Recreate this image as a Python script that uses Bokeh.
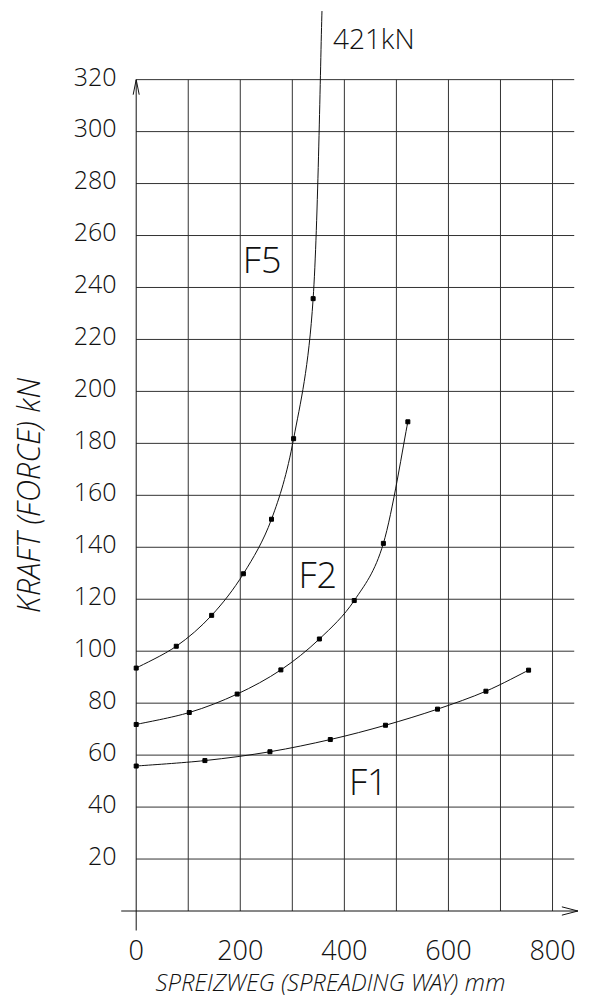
from bokeh.plotting import figure
from bokeh.models import Range1d
from bokeh.core.properties import value
from bokeh.embed import file_html
from bokeh.resources import INLINE
import math

# ---- data ----
f5_x = [0, 77, 145, 206, 260, 302.5, 340]
f5_y = [93.5, 101.9, 113.8, 129.8, 150.8, 181.8, 235.7]
f5_top_x = 357      # visible end of F5 at the top edge (curve runs on towards 421 kN)
f5_top_y = 346.4

f2_x = [0, 102, 194, 278, 352, 419, 475, 522]
f2_y = [71.8, 76.4, 83.5, 92.8, 104.7, 119.5, 141.5, 188.3]

f1_x = [0, 132, 257, 373, 479, 579, 672, 754]
f1_y = [55.8, 57.9, 61.3, 66.0, 71.5, 77.7, 84.6, 92.7]

x_ticks = [0, 200, 400, 600, 800]
x_tick_labels = ["0", "200", "400", "600", "800"]
y_ticks = [20, 40, 60, 80, 100, 120, 140, 160, 180, 200, 220, 240, 260, 280, 300, 320]
y_tick_labels = [str(v) for v in y_ticks]
x_grid = [100, 200, 300, 400, 500, 600, 700, 800]
y_grid = y_ticks
x_max_grid = 841.7
y_max_grid = 320

curve_labels = ["F5", "F2", "F1"]
curve_label_x = [242, 349, 446]
curve_label_y = [250.6, 129.5, 49.8]
end_label = "421kN"
end_label_x = 378
end_label_y = 336

x_title = "SPREIZWEG (SPREADING WAY) mm"
y_title = "KRAFT (FORCE) kN"

FONT = "Open Sans Light"
INK = "#111111"
GRID = "#333333"

W, H = 590, 1000
x0 = -135.7 / 0.5204
y1 = 910.5 / 2.598
p = figure(width=W, height=H, output_backend="svg", toolbar_location=None,
           x_range=Range1d(x0, x0 + W / 0.5204), y_range=Range1d(y1 - H / 2.598, y1),
           min_border=0, x_axis_location=None, y_axis_location=None)
p.outline_line_color = None
p.xgrid.visible = False
p.ygrid.visible = False
p.background_fill_color = "white"
p.border_fill_color = "white"

# grid lines
p.segment(x0=x_grid, y0=[0] * len(x_grid), x1=x_grid, y1=[y_max_grid] * len(x_grid),
          line_color=GRID, line_width=1)
p.segment(x0=[0] * len(y_grid), y0=y_grid, x1=[x_max_grid] * len(y_grid), y1=y_grid,
          line_color=GRID, line_width=1)

# axis lines with arrows
p.segment(x0=[-28.8, 0], y0=[0, -7.5], x1=[848.8, 0], y1=[0, 320],
          line_color=INK, line_width=1)
p.segment(x0=[818, 818], y0=[1.6, -1.6], x1=[848.8, 848.8], y1=[0, 0],
          line_color=INK, line_width=1)
p.segment(x0=[-5.8, 5.8], y0=[314.2, 314.2], x1=[0, 0], y1=[320, 320],
          line_color=INK, line_width=1)

# tick labels
p.text(x=x_ticks, y=[-15.2] * len(x_ticks), text=x_tick_labels,
       text_font=value(FONT), text_font_size="27px", text_align="center",
       text_baseline="middle", text_color=INK)
p.text(x=[-37.9] * len(y_ticks), y=[t + 1.2 for t in y_ticks], text=y_tick_labels,
       text_font=value(FONT), text_font_size="25px", text_align="right",
       text_baseline="middle", text_color=INK)


def catmull(xs, ys):
    n = len(xs)
    px = [xs[0]] + list(xs) + [xs[-1]]
    py = [ys[0]] + list(ys) + [ys[-1]]
    out = dict(x0=[], y0=[], x1=[], y1=[], cx0=[], cy0=[], cx1=[], cy1=[])
    for i in range(1, n):
        a, b, c, d = i - 1, i, i + 1, i + 2
        out["x0"].append(px[b]); out["y0"].append(py[b])
        out["x1"].append(px[c]); out["y1"].append(py[c])
        out["cx0"].append(px[b] + (px[c] - px[a]) / 6.0)
        out["cy0"].append(py[b] + (py[c] - py[a]) / 6.0)
        out["cx1"].append(px[c] - (px[d] - px[b]) / 6.0)
        out["cy1"].append(py[c] - (py[d] - py[b]) / 6.0)
    return out


for xs, ys in ((f5_x + [f5_top_x], f5_y + [f5_top_y]), (f2_x, f2_y), (f1_x, f1_y)):
    b = catmull(xs, ys)
    p.bezier(line_color=INK, line_width=1, **b)

for xs, ys in ((f5_x, f5_y), (f2_x, f2_y), (f1_x, f1_y)):
    p.scatter(xs, ys, marker="square", size=4, color="#000000")

p.text(x=curve_label_x, y=curve_label_y, text=curve_labels, text_font=value(FONT),
       text_font_size="36px", text_align="center", text_baseline="middle",
       text_color=INK)
p.text(x=[end_label_x], y=[end_label_y], text=[end_label], text_font=value(FONT),
       text_font_size="28px", text_align="left", text_baseline="middle",
       text_color=INK)

# axis titles
p.text(x=[373.4], y=[-27.3], text=[x_title], text_font=value(FONT),
       text_font_style="italic", text_font_size="24px", text_align="center",
       text_baseline="middle", text_color=INK)
p.text(x=[-207], y=[159.9], text=[y_title], text_font=value(FONT),
       text_font_style="italic", text_font_size="31px", angle=math.pi / 2,
       text_align="center", text_baseline="middle", text_color=INK)

open("out.html", "w").write(file_html(p, INLINE))
